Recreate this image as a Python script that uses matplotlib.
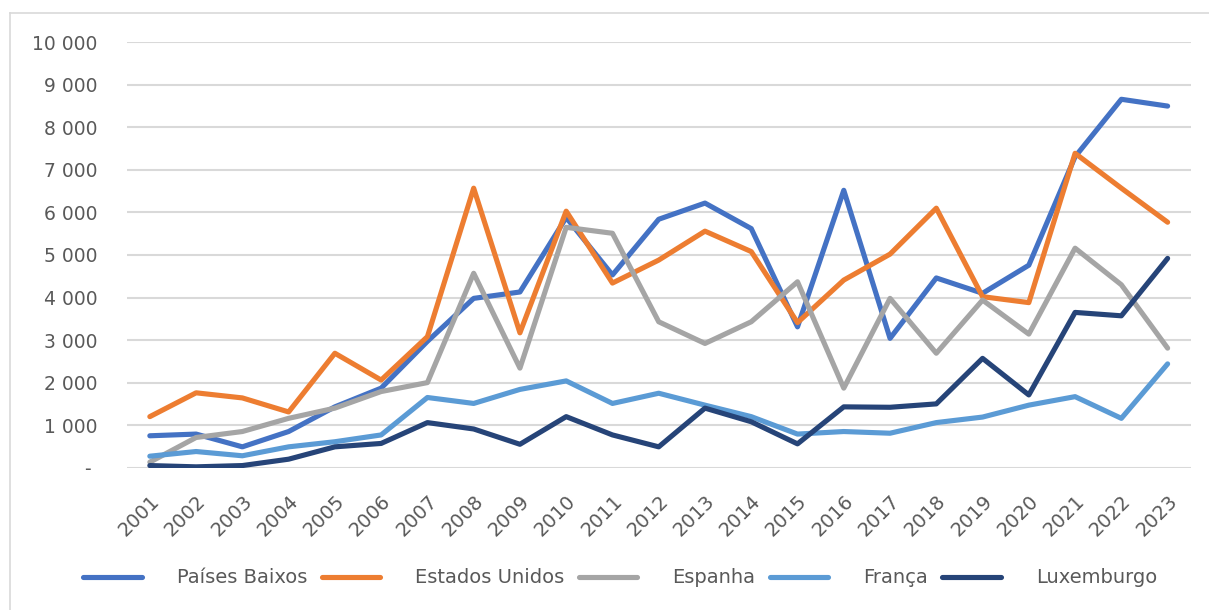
import matplotlib.pyplot as plt
from matplotlib.lines import Line2D
from matplotlib.ticker import FuncFormatter, MultipleLocator
import numpy as np


years = [str(y) for y in range(2001, 2024)]

paises_baixos = [750, 790, 490, 850, 1430, 1870, 2970, 3980, 4130, 5880, 4530, 5840,
                 6220, 5620, 3310, 6520, 3040, 4460, 4100, 4760, 7310, 8660, 8500]
estados_unidos = [1200, 1760, 1640, 1310, 2690, 2060, 3080, 6570, 3170, 6030, 4340, 4880,
                  5560, 5080, 3410, 4410, 5020, 6100, 4020, 3880, 7390, 6570, 5770]
espanha = [130, 710, 850, 1160, 1400, 1790, 2000, 4570, 2340, 5650, 5510, 3430,
           2920, 3430, 4370, 1870, 3980, 2690, 3940, 3140, 5160, 4300, 2810]
franca = [270, 380, 280, 490, 610, 770, 1650, 1510, 1840, 2040, 1510, 1750,
          1470, 1200, 790, 850, 810, 1060, 1190, 1470, 1670, 1160, 2440]
luxemburgo = [50, 20, 50, 200, 490, 570, 1060, 910, 550, 1200, 770, 490,
              1400, 1080, 560, 1430, 1420, 1500, 2570, 1710, 3650, 3570, 4920]

series = [
    ("Países Baixos", paises_baixos, "#4472C4"),
    ("Estados Unidos", estados_unidos, "#ED7D31"),
    ("Espanha", espanha, "#A5A5A5"),
    ("França", franca, "#5B9BD5"),
    ("Luxemburgo", luxemburgo, "#264478"),
]

text_color = "#595959"
grid_color = "#D9D9D9"

fig = plt.figure(figsize=(12.09, 6.10), dpi=100)
ax = fig.add_axes([0.1048, 0.2333, 0.8801, 0.6974])

x = np.arange(len(years))
for name, vals, color in series:
    ax.plot(x, vals, color=color, lw=3.7, label=name,
            solid_capstyle="round", solid_joinstyle="round")

ax.set_xlim(-0.5, len(years) - 0.5)
ax.set_ylim(0, 10000)
ax.yaxis.set_major_locator(MultipleLocator(1000))


def fmt(v, pos):
    if v == 0:
        return "- "
    return f"{int(v):,}".replace(",", " ")


ax.yaxis.set_major_formatter(FuncFormatter(fmt))
ax.set_xticks(x)
ax.set_xticklabels(years)
ax.grid(axis="y", color=grid_color, lw=1.5)
ax.set_axisbelow(True)
for s in ax.spines.values():
    s.set_visible(False)

ax.tick_params(axis="y", length=0, pad=21, labelsize=13.5, labelcolor=text_color)
ax.tick_params(axis="x", length=0, pad=17, labelsize=14, labelcolor=text_color)
for lab in ax.get_xticklabels():
    lab.set_rotation(45)
    lab.set_ha("right")
    lab.set_va("top")
    lab.set_rotation_mode("anchor")

leg = fig.legend(loc="center", bbox_to_anchor=(0.513, 0.0525), ncol=5, frameon=False,
                 fontsize=14, handlelength=3.0, handletextpad=1.8, columnspacing=0.75)
for t in leg.get_texts():
    t.set_color(text_color)
for h in leg.legend_handles:
    h.set_linewidth(3.7)

# chart frame (left and top edges visible)
fx, fy = 10 / 1209, 1 - 13 / 610
fig.lines.append(Line2D([fx, fx], [0, fy], transform=fig.transFigure,
                        color=grid_color, lw=1.2))
fig.lines.append(Line2D([fx, 1], [fy, fy], transform=fig.transFigure,
                        color=grid_color, lw=1.2))

fig.savefig("out.png", dpi=100)
